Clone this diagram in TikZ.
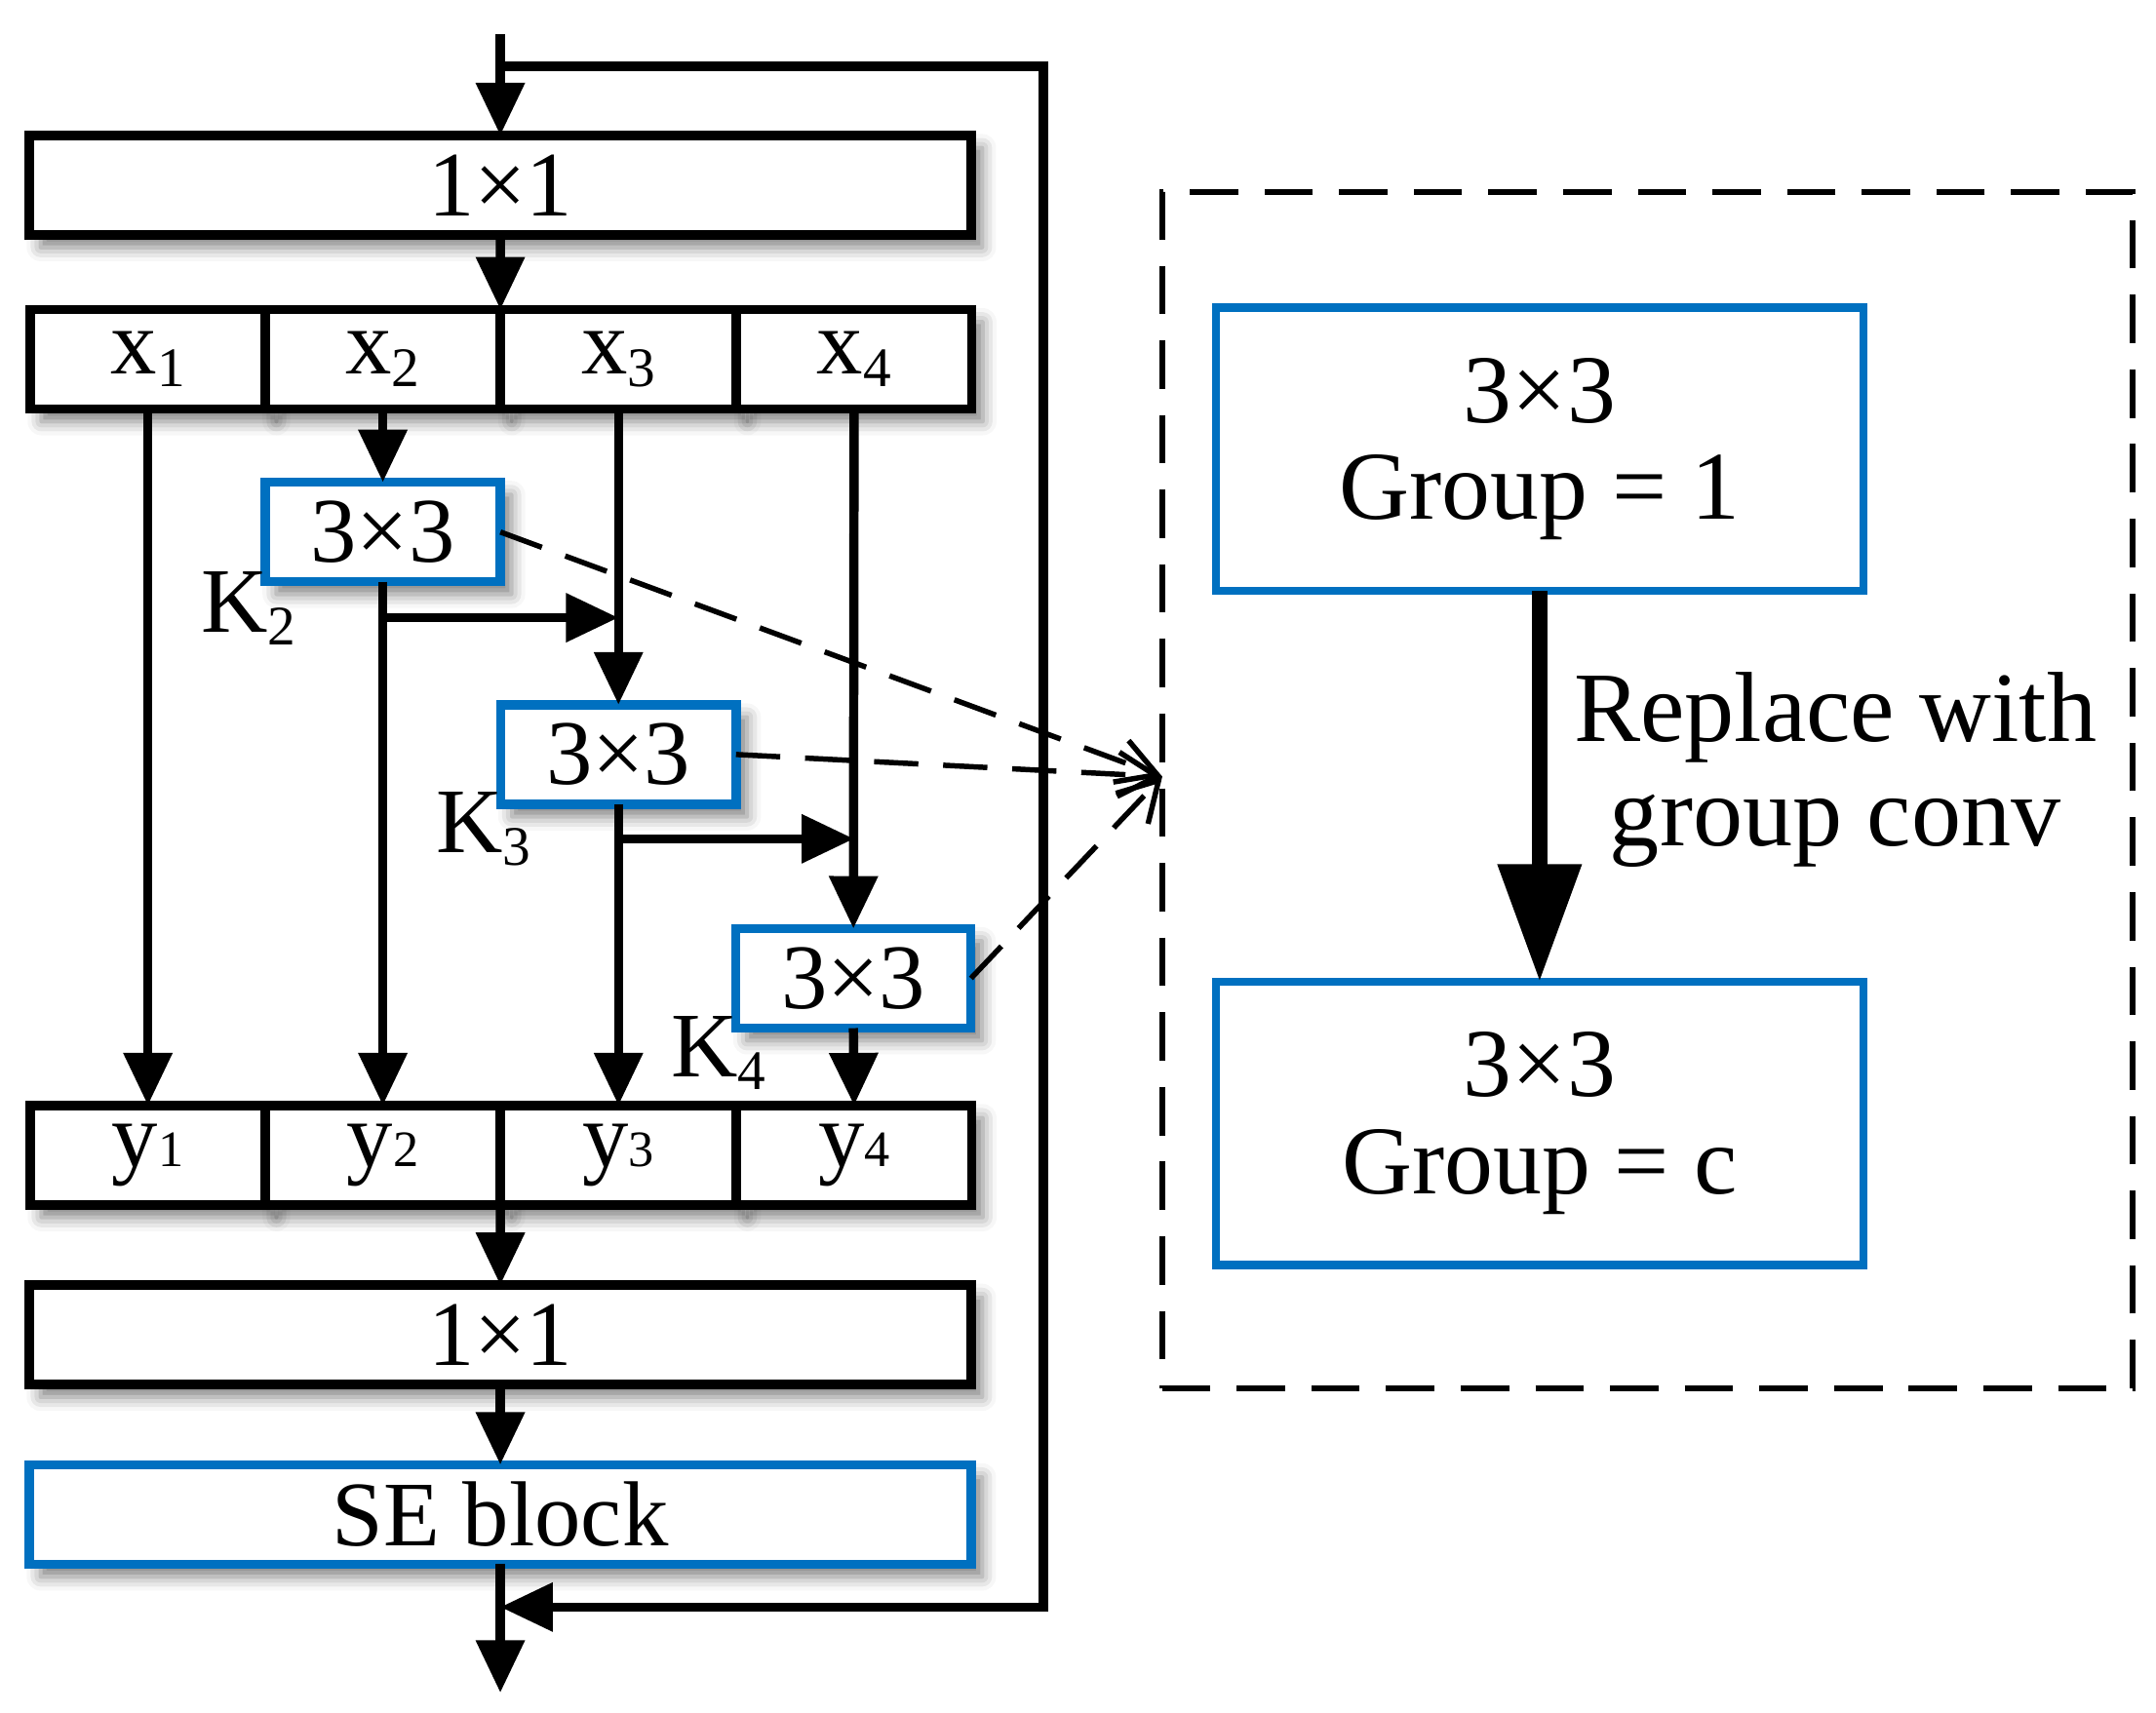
\documentclass[tikz,border=0pt]{standalone}
\usepackage{fontspec}
\setmainfont{Liberation Serif}
\usetikzlibrary{arrows.meta, shadows.blur}
\definecolor{boxblue}{RGB}{0,112,192}
\newcommand{\ksub}[1]{\raisebox{-0.09cm}{\fontsize{11.5}{12}\selectfont #1}}
\newcommand{\ysub}[1]{{\fontsize{10.5}{11}\selectfont #1}}

\begin{document}
\begin{tikzpicture}[x=0.01cm, y=-0.01cm, font=\fontsize{19}{22}\selectfont, line join=miter,
	cellbox/.style={draw, line width=1.9pt, fill=white, minimum height=0.72cm, inner sep=0pt, outer sep=0pt, blur shadow={shadow xshift=0.8mm, shadow yshift=-0.9mm, shadow blur radius=1mm, shadow opacity=50}},
	kbox/.style={cellbox, draw=boxblue, minimum width=1.7cm},
	grpbox/.style={draw=boxblue, line width=1.7pt, fill=white, minimum width=4.68cm, minimum height=2.05cm, inner sep=0pt, outer sep=0pt, align=center, font=\fontsize{20}{20}\selectfont},
	arr/.style={line width=1.9pt, -{Triangle[length=3.8mm, width=3.4mm]}},
	dasharr/.style={line width=1.1pt, dash pattern=on 3.2mm off 1.8mm, -{Straight Barb[length=2.8mm, width=3.2mm]}}]
	
	\useasboundingbox (0,0) rectangle (1560,1239);
	
	% Nhánh trái
	\node[cellbox, minimum width=6.81cm] (conv1) at (362,134) {1×1};
	\node[cellbox, minimum width=1.7cm] (x1) at (107,260) {x\ksub{1}};
	\node[cellbox, minimum width=1.7cm] (x2) at (277,260) {x\ksub{2}};
	\node[cellbox, minimum width=1.7cm] (x3) at (447.5,260) {x\ksub{3}};
	\node[cellbox, minimum width=1.7cm] (x4) at (618,260) {x\ksub{4}};
	
	\node[kbox] (k2) at (277,385) {3×3};
	\node[kbox] (k3) at (447.5,546) {3×3};
	\node[kbox] (k4) at (617.5,708) {3×3};
	\node (lk2) at (180,440) {K\ksub{2}};
	\node (lk3) at (350,600) {K\ksub{3}};
	\node (lk4) at (520,762) {K\ksub{4}};
	
	\node[cellbox, minimum width=1.7cm] (y1) at (107,836) {y\ysub{1}};
	\node[cellbox, minimum width=1.7cm] (y2) at (277,836) {y\ysub{2}};
	\node[cellbox, minimum width=1.7cm] (y3) at (447.5,836) {y\ysub{3}};
	\node[cellbox, minimum width=1.7cm] (y4) at (618,836) {y\ysub{4}};
	\node[cellbox, minimum width=6.81cm] (conv2) at (362,966) {1×1};
	\node[cellbox, draw=boxblue, minimum width=6.81cm] (se) at (362,1096) {SE block};
	
	\coordinate (in) at (362,25);
	\coordinate (fbtop) at (362,48);
	\coordinate (fbbot) at (362,1163);
	\coordinate (out) at (362,1225);
	\coordinate (tip) at (841,562);
	
	\draw[arr] (in) -- (conv1.north);
	\draw[arr] (fbtop) -- ++(393,0) |- (fbbot);
	\draw[arr] (conv1.south) -- (x2.north east);
	\draw[arr] (x1.south) -- (y1.north);
	\draw[arr] (x2.south) -- (k2.north);
	\draw[arr] (k2.south) -- (y2.north);
	\path (k2.south) ++(0,26) coordinate (b2);
	\draw[arr] (b2) -- (b2 -| x3.south);
	\draw[arr] (x3.south) -- (k3.north);
	\draw[arr] (k3.south) -- (y3.north);
	\path (k3.south) ++(0,25) coordinate (b3);
	\draw[arr] (b3) -- (b3 -| x4.south);
	\draw[arr] (x4.south) -- (k4.north);
	\draw[arr] (k4.south) -- (y4.north);
	\draw[arr] (y2.south east) -- (conv2.north);
	\draw[arr] (conv2.south) -- (se.north);
	\draw[arr] (se.south) -- (out);
	
	\draw[dasharr] (k2.east) -- (tip);
	\draw[dasharr] (k3.east) -- (tip);
	\draw[dasharr] (k4.east) -- (tip);
	
	% Khung bên phải
	\node[draw, line width=1.2pt, dash pattern=on 3.5mm off 1.9mm, minimum width=7.02cm, minimum height=8.65cm, inner sep=0pt] (frame) at (1192,572) {};
	\node[grpbox] (grp1) at (1114,325) {3×3\\Group = 1};
	\node[grpbox] (grpc) at (1114,813) {3×3\\Group = c};
	\draw[line width=3.3pt, -{Triangle[length=8.5mm, width=5.8mm]}] (grp1.south) -- (grpc.north);
	\node[align=center, font=\fontsize{20.5}{21.5}\selectfont] (replace) at (1328,557) {Replace with\\group conv};
\end{tikzpicture}
\end{document}
